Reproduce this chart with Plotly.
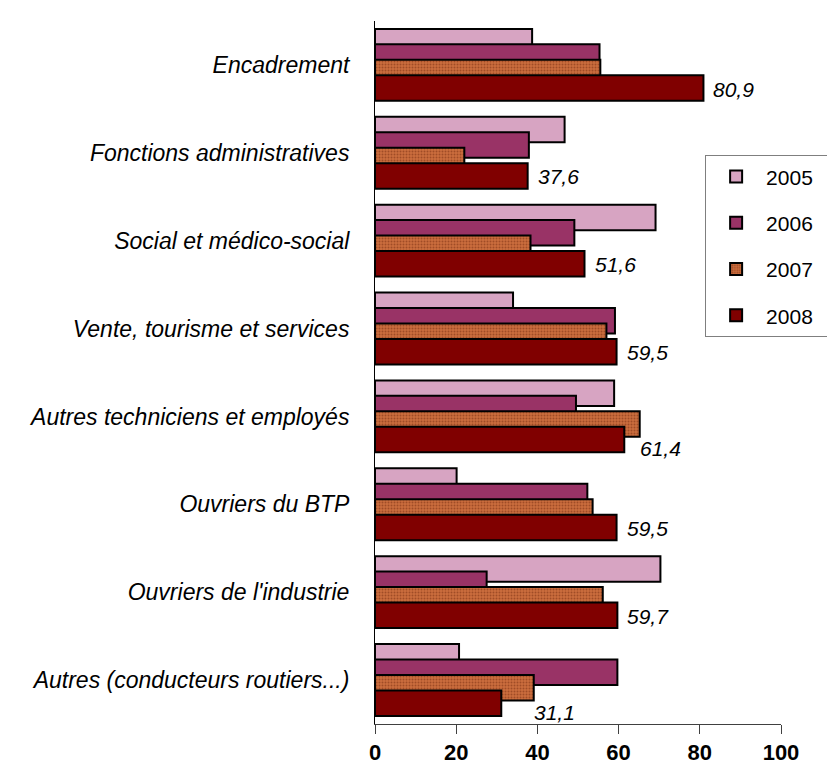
import plotly.graph_objects as go

categories = [
    "Encadrement",
    "Fonctions administratives",
    "Social et médico-social",
    "Vente, tourisme et services",
    "Autres techniciens et employés",
    "Ouvriers du BTP",
    "Ouvriers de l'industrie",
    "Autres (conducteurs routiers...)",
]
years = ["2005", "2006", "2007", "2008"]
v2005 = [38.7, 46.7, 69.1, 34.0, 58.9, 20.1, 70.3, 20.7]
v2006 = [55.3, 37.9, 49.1, 59.1, 49.5, 52.3, 27.5, 59.7]
v2007 = [55.5, 22.0, 38.3, 57.0, 65.2, 53.6, 56.1, 39.1]
v2008 = [80.9, 37.6, 51.6, 59.5, 61.4, 59.5, 59.7, 31.1]
x_ticks = [0, 20, 40, 60, 80, 100]

series = [v2005, v2006, v2007, v2008]
positions = list(range(len(categories)))

BAR_W = 0.29
STEP = 0.176
START = -0.41
offsets = [START + k * STEP for k in range(4)]

styles = [
    dict(color="#E4B2D2", pattern=dict(shape=".", fgcolor="#C48AAC", bgcolor="#E6B8D4", size=2, solidity=0.5, fillmode="replace")),
    dict(color="#993366"),
    dict(color="#C8693A", pattern=dict(shape=".", fgcolor="#A04C26", bgcolor="#CC6E3E", size=3, solidity=0.35, fillmode="replace")),
    dict(color="#800000"),
]

FONT = "Liberation Sans, Arial, sans-serif"
PAD = "\u00a0" * 2

fig = go.Figure()
for k, (yr, vals) in enumerate(zip(years, series)):
    m = dict(styles[k])
    m["line"] = dict(color="black", width=2)
    fig.add_trace(go.Bar(
        x=vals, y=positions, orientation="h",
        width=BAR_W, offset=offsets[k],
        marker=m, name=yr + PAD, legendgroup=yr,
        hovertemplate=yr + ": %{x}<extra></extra>",
    ))

# 2008 value labels; when the 2007 bar sticks out further, the label sits past it, a little lower
for i, v in enumerate(v2008):
    txt = f"{v:.1f}".replace(".", ",")
    lf = dict(family=FONT, size=21, color="black", style="italic")
    yc = positions[i] + offsets[3] + BAR_W / 2
    if v2007[i] > v:
        fig.add_annotation(
            x=v2007[i], y=yc, text=txt, xanchor="left", yanchor="middle",
            xshift=-2, yshift=-9, showarrow=False, font=lf,
        )
    else:
        fig.add_annotation(
            x=v, y=yc, text=txt, xanchor="left", yanchor="middle",
            xshift=8, yshift=-1, showarrow=False, font=lf,
        )

fig.update_layout(
    width=835, height=769,
    margin=dict(l=367, r=40, t=13, b=53),
    paper_bgcolor="white", plot_bgcolor="white",
    barmode="overlay",
    font=dict(family=FONT, color="black"),
    legend=dict(
        x=0.8131, y=0.809, xanchor="left", yanchor="top",
        bgcolor="white", bordercolor="#7f7f7f", borderwidth=1,
        font=dict(family=FONT, size=21, color="black"),
        traceorder="grouped", tracegroupgap=16, itemwidth=50,
    ),
    showlegend=True,
)
fig.update_xaxes(
    range=[0, 100], tickvals=x_ticks, ticktext=[str(t) for t in x_ticks],
    showline=True, linecolor="#404040", linewidth=1,
    ticks="outside", ticklen=9, tickcolor="#404040", tickwidth=1,
    showgrid=False, zeroline=False, automargin=False,
    tickfont=dict(family=FONT, size=22, color="black", weight="bold"),
    ticklabelstandoff=0,
)
fig.update_yaxes(
    range=[len(categories) - 0.5, -0.5],
    tickvals=positions, ticktext=categories,
    showline=True, linecolor="black", linewidth=1,
    ticks="", showgrid=False, zeroline=False, automargin=False,
    tickfont=dict(family=FONT, size=23, color="black", style="italic"),
    ticklabelstandoff=20,
)

fig.write_html("out.html")
